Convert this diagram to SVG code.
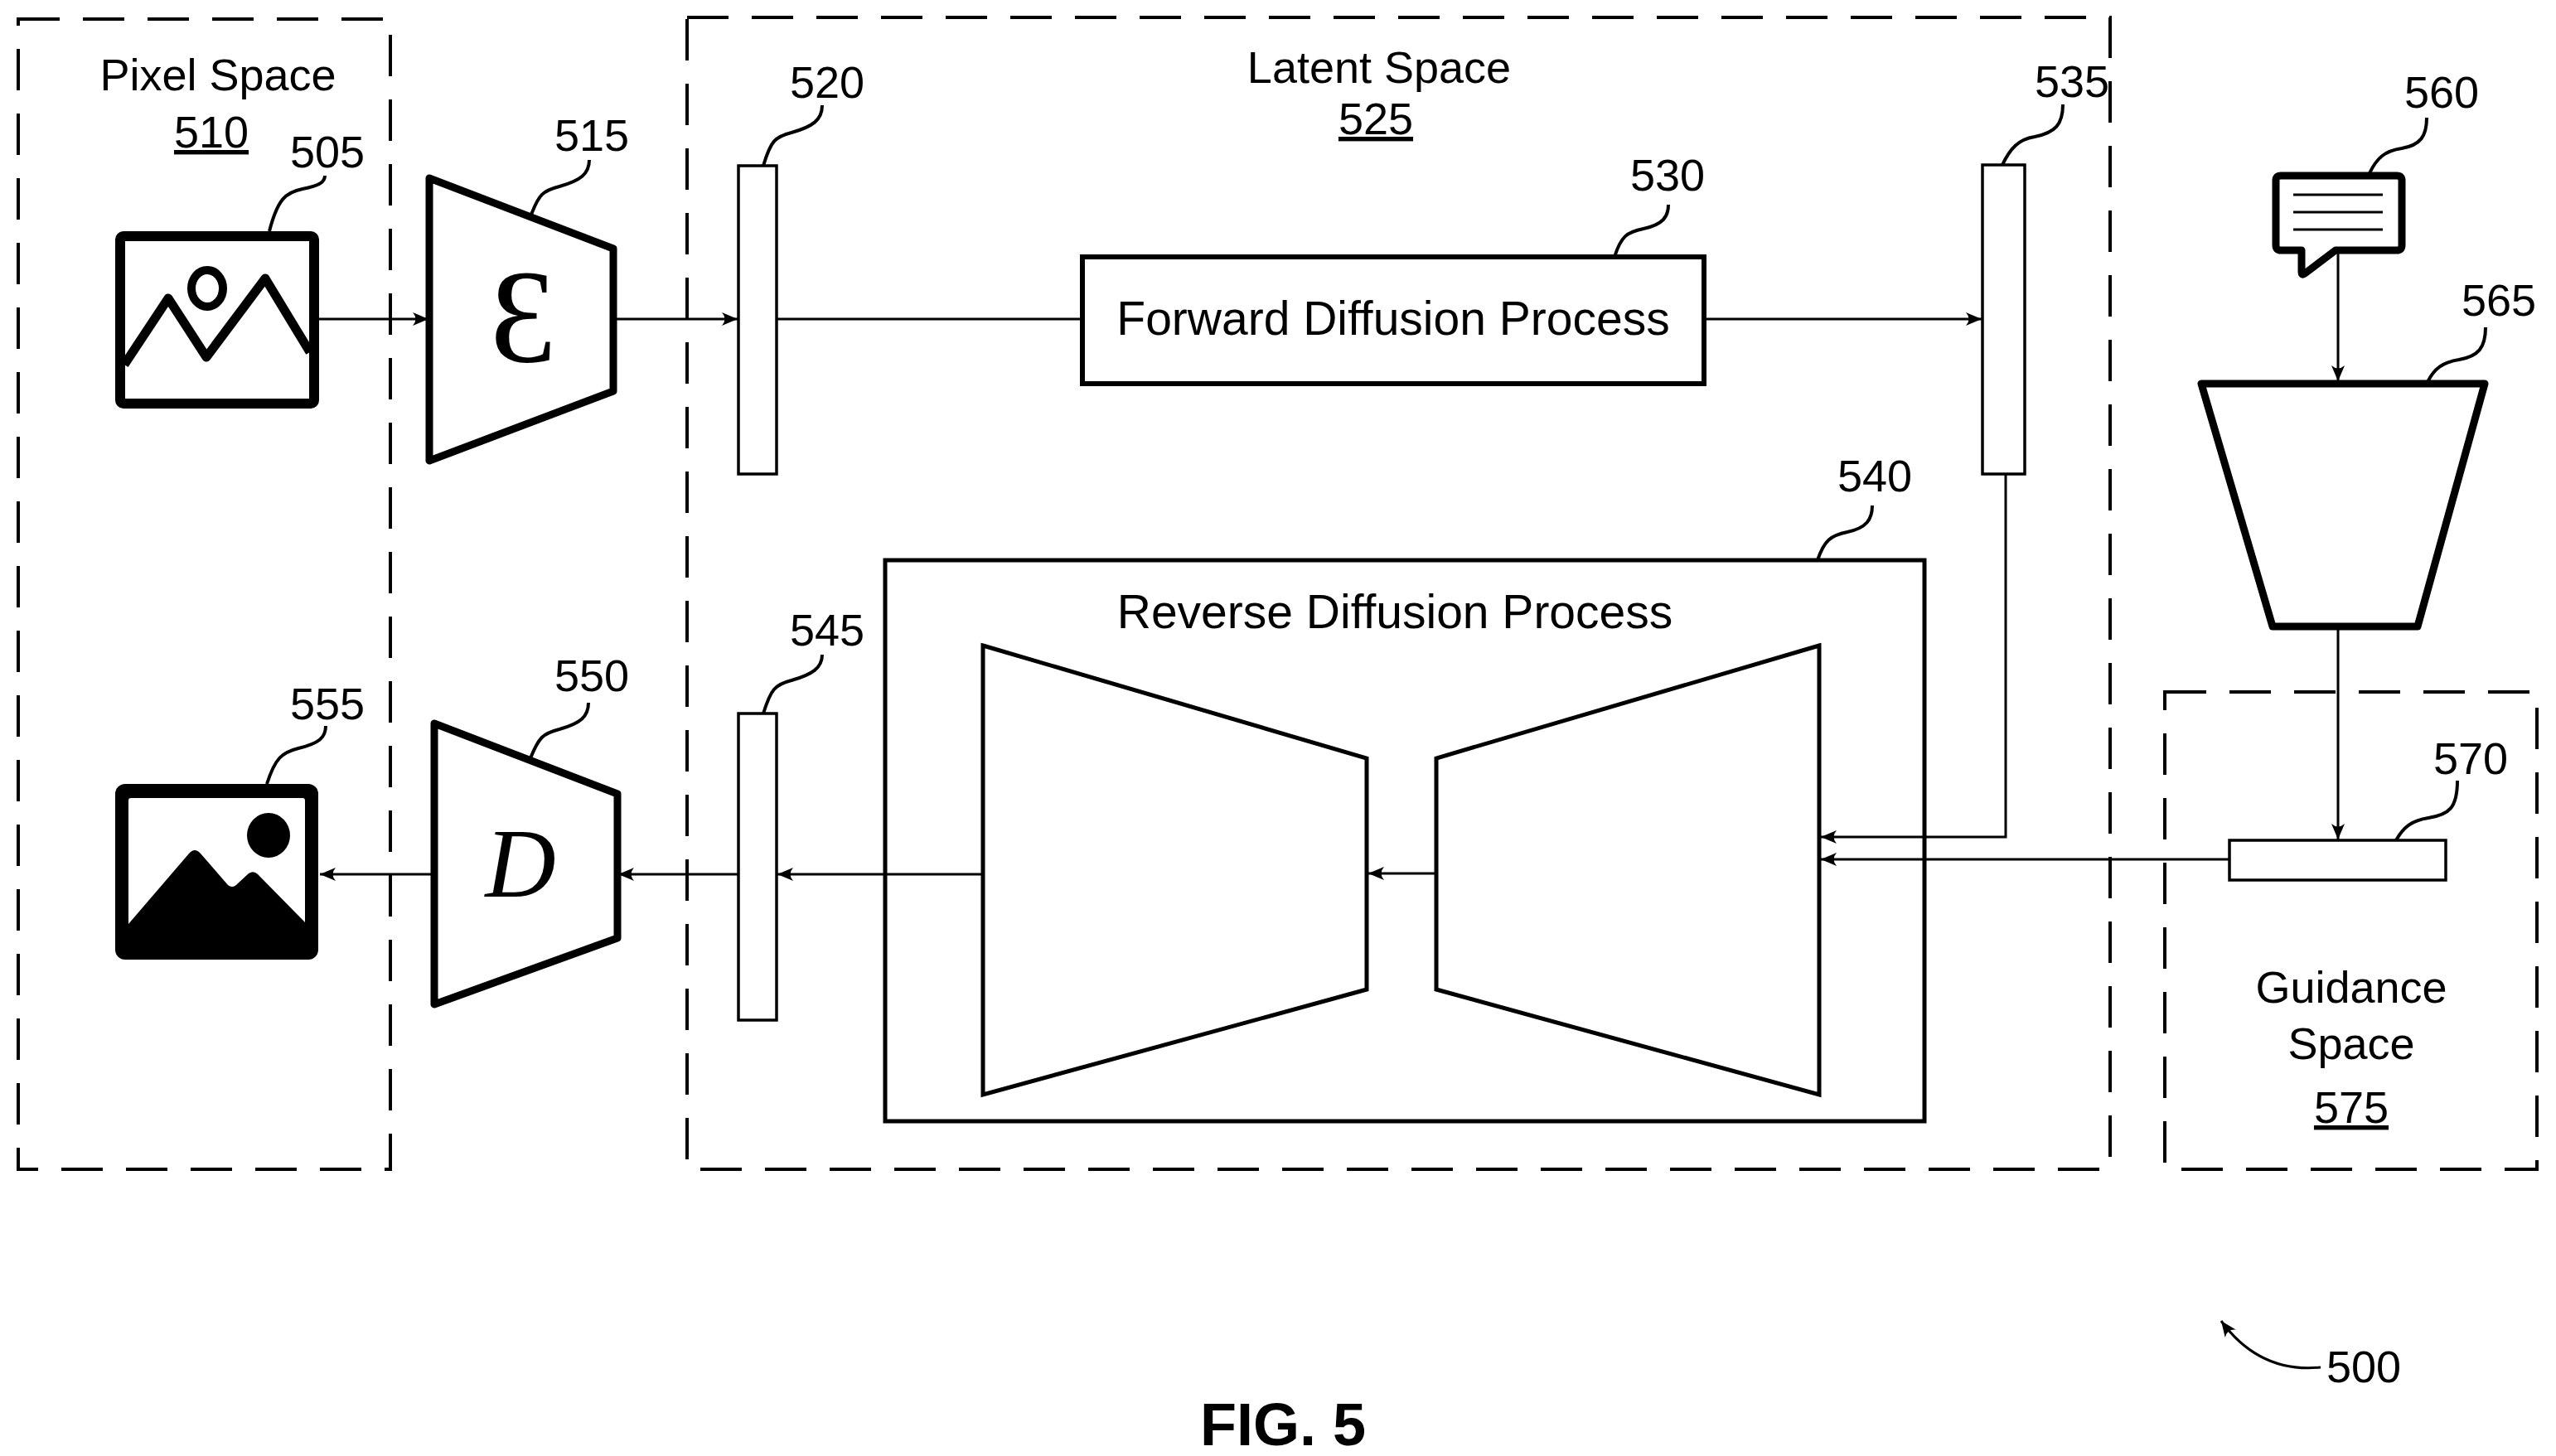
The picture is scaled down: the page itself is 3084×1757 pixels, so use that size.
<svg xmlns="http://www.w3.org/2000/svg" width="3084" height="1757" viewBox="0 0 3084 1757">
<defs>
<style>
.t{font-family:"Liberation Sans",Arial,sans-serif;font-size:54px;fill:#000}
.dash{fill:none;stroke:#000;stroke-width:4;stroke-dasharray:50 28}
.ln{fill:none;stroke:#000;stroke-width:3}
.ld{fill:none;stroke:#000;stroke-width:4}
.thick{fill:#fff;stroke:#000;stroke-width:9;stroke-linejoin:round}
.bar{fill:#fff;stroke:#000;stroke-width:3.5}
</style>
<marker id="a" markerWidth="24" markerHeight="20" refX="20" refY="10" orient="auto" markerUnits="userSpaceOnUse">
<path d="M20,10 L1,2 Q8,10 1,18 Z" fill="#000"/>
</marker>
</defs>
<rect width="3084" height="1757" fill="#fff"/>

<g id="pixel-space">
<rect class="dash" x="22" y="23" width="449" height="1388"/>
<text class="t" x="263" y="109" text-anchor="middle">Pixel Space</text>
<text class="t" x="255" y="178" text-anchor="middle" text-decoration="underline">510</text>
</g>
<g id="latent-space">
<rect class="dash" x="829" y="21" width="1717" height="1390"/>
<text class="t" x="1664" y="100" text-anchor="middle">Latent Space</text>
<text class="t" x="1660" y="162" text-anchor="middle" text-decoration="underline">525</text>
</g>
<g id="guidance-space">
<rect class="dash" x="2612" y="835" width="449" height="576"/>
<text class="t" x="2837" y="1210" text-anchor="middle">Guidance</text>
<text class="t" x="2837" y="1278" text-anchor="middle">Space</text>
<text class="t" x="2837" y="1355" text-anchor="middle" text-decoration="underline">575</text>
</g>

<g id="n505">
<rect x="145" y="285" width="234" height="202" rx="4" fill="#fff" stroke="#000" stroke-width="12"/>
<path d="M150,440 L203,360 L249,431 L320,336 L374,425" fill="none" stroke="#000" stroke-width="11" stroke-linejoin="round"/>
<ellipse cx="250" cy="348" rx="19" ry="22" fill="none" stroke="#000" stroke-width="10"/>
<text class="t" x="395" y="202" text-anchor="middle">505</text>
<path class="ld" d="M325,279 C335,240 345,232 365,228 C385,224 392,220 392,212"/>
</g>

<g id="n515">
<polygon class="thick" points="518,215 740,300 740,472 518,556"/>
<text x="631" y="436" font-family="Liberation Serif,serif" font-size="160" text-anchor="middle">Ɛ</text>
<text class="t" x="714" y="182" text-anchor="middle">515</text>
<path class="ld" d="M641,259 C650,235 655,230 675,225 C700,218 711,210 711,193"/>
</g>

<g id="n520">
<rect class="bar" x="891" y="200" width="46" height="372"/>
<text class="t" x="998" y="118" text-anchor="middle">520</text>
<path class="ld" d="M921,200 C930,170 935,165 955,160 C980,153 992,145 992,127"/>
</g>

<g id="n530">
<rect x="1306" y="310" width="750" height="153" fill="#fff" stroke="#000" stroke-width="6"/>
<text class="t" x="1681" y="404" text-anchor="middle" style="font-size:57px">Forward Diffusion Process</text>
<text class="t" x="2012" y="230" text-anchor="middle">530</text>
<path class="ld" d="M1948,310 C1956,285 1963,280 1983,276 C2006,271 2013,262 2013,247"/>
</g>

<g id="n535">
<rect class="bar" x="2392" y="199" width="51" height="373"/>
<text class="t" x="2500" y="117" text-anchor="middle">535</text>
<path class="ld" d="M2416,199 C2425,180 2435,168 2455,165 C2480,160 2489,150 2489,126"/>
</g>

<g id="n540">
<rect x="1068" y="676" width="1254" height="677" fill="#fff" stroke="#000" stroke-width="5"/>
<text class="t" x="1683" y="758" text-anchor="middle" style="font-size:57px">Reverse Diffusion Process</text>
<polygon points="1186,779 1649,915 1649,1194 1186,1321" fill="#fff" stroke="#000" stroke-width="5"/>
<polygon points="2195,779 1733,915 1733,1194 2195,1321" fill="#fff" stroke="#000" stroke-width="5"/>
<text class="t" x="2262" y="593" text-anchor="middle">540</text>
<path class="ld" d="M2193,676 C2201,652 2209,646 2229,642 C2252,637 2259,627 2259,610"/>
</g>

<g id="n545">
<rect class="bar" x="891" y="861" width="46" height="370"/>
<text class="t" x="998" y="779" text-anchor="middle">545</text>
<path class="ld" d="M921,861 C930,832 935,826 955,821 C980,814 992,806 992,790"/>
</g>

<g id="n550">
<polygon class="thick" points="524,873 745,958 745,1132 524,1212"/>
<text x="628" y="1082" font-family="Liberation Serif,serif" font-style="italic" font-size="118" text-anchor="middle">D</text>
<text class="t" x="714" y="834" text-anchor="middle">550</text>
<path class="ld" d="M640,915 C650,890 655,885 675,880 C700,873 710,865 710,848"/>
</g>

<g id="n555">
<rect x="139" y="946" width="245" height="212" rx="12" fill="#000"/>
<rect x="155" y="963" width="213" height="175" rx="3" fill="#fff"/>
<path d="M155,1115 L228,1030 Q235,1022 242,1030 L275,1068 Q281,1073 287,1066 L300,1054 Q306,1050 311,1055 L368,1113 L368,1145 L155,1145 Z" fill="#000"/>
<ellipse cx="324" cy="1008" rx="26" ry="27" fill="#000"/>
<text class="t" x="395" y="868" text-anchor="middle">555</text>
<path class="ld" d="M322,946 C332,915 340,908 360,903 C385,897 393,890 393,876"/>
</g>

<g id="n560">
<path d="M2752,212 H2892 Q2898,212 2898,218 V296 Q2898,302 2892,302 H2818 L2781,330 Q2777,333 2777,328 V302 H2752 Q2746,302 2746,296 V218 Q2746,212 2752,212 Z" fill="#fff" stroke="#000" stroke-width="9" stroke-linejoin="round"/>
<line class="ln" x1="2767" y1="235" x2="2875" y2="235" stroke-width="4"/>
<line class="ln" x1="2767" y1="256" x2="2875" y2="256" stroke-width="4"/>
<line class="ln" x1="2767" y1="277" x2="2875" y2="277" stroke-width="4"/>
<text class="t" x="2946" y="130" text-anchor="middle">560</text>
<path class="ld" d="M2859,209 C2868,190 2878,182 2898,179 C2920,175 2928,165 2928,142"/>
</g>

<g id="n565">
<polygon class="thick" points="2656,463 2998,463 2917,756 2742,756"/>
<text class="t" x="3015" y="381" text-anchor="middle">565</text>
<path class="ld" d="M2929,461 C2937,445 2947,437 2967,434 C2990,430 2999,420 2999,395"/>
</g>

<g id="n570">
<rect class="bar" x="2690" y="1014" width="261" height="48"/>
<text class="t" x="2981" y="934" text-anchor="middle">570</text>
<path class="ld" d="M2891,1014 C2900,998 2910,990 2930,987 C2955,983 2965,975 2965,942"/>
</g>

<g id="connectors">
<line class="ln" x1="384" y1="385" x2="517" y2="385" marker-end="url(#a)"/>
<line class="ln" x1="740" y1="385" x2="890" y2="385" marker-end="url(#a)"/>
<line class="ln" x1="937" y1="385" x2="1306" y2="385"/>
<line class="ln" x1="2056" y1="385" x2="2391" y2="385" marker-end="url(#a)"/>
<polyline class="ln" points="2420,572 2420,1010 2197,1010" marker-end="url(#a)"/>
<line class="ln" x1="2690" y1="1037" x2="2197" y2="1037" marker-end="url(#a)"/>
<line class="ln" x1="1733" y1="1054" x2="1651" y2="1054" marker-end="url(#a)"/>
<line class="ln" x1="1186" y1="1055" x2="938" y2="1055" marker-end="url(#a)"/>
<line class="ln" x1="891" y1="1055" x2="746" y2="1055" marker-end="url(#a)"/>
<line class="ln" x1="524" y1="1055" x2="386" y2="1055" marker-end="url(#a)"/>
<line class="ln" x1="2821" y1="303" x2="2821" y2="460" marker-end="url(#a)"/>
<line class="ln" x1="2821" y1="756" x2="2821" y2="1013" marker-end="url(#a)"/>
<path class="ln" d="M2800,1650 C2750,1655 2710,1635 2680,1594" stroke-width="4" marker-end="url(#a)"/>
</g>

<text class="t" x="2852" y="1668" text-anchor="middle">500</text>
<text class="t" x="1548" y="1744" text-anchor="middle" font-weight="bold" style="font-size:72px">FIG. 5</text>
</svg>
